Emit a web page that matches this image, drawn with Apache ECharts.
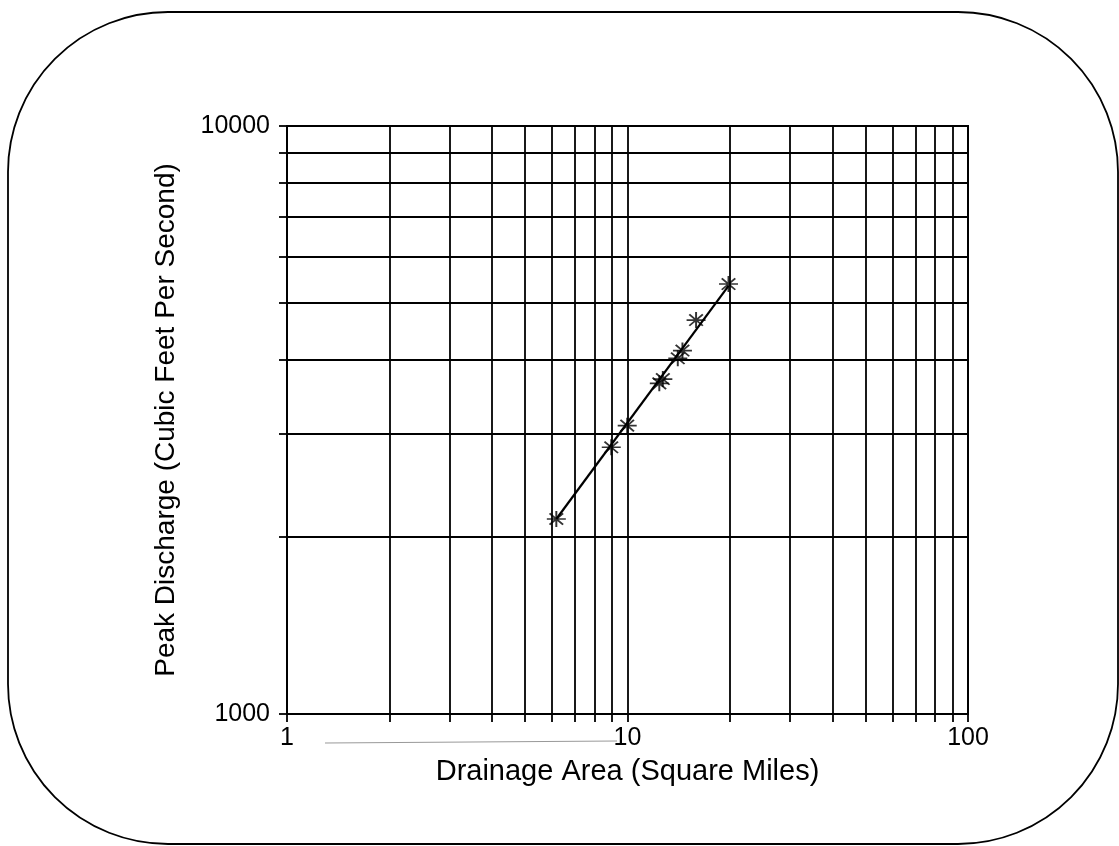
<!DOCTYPE html>
<html><head><meta charset="utf-8">
<script src="https://cdn.jsdelivr.net/npm/echarts@6/dist/echarts.min.js"></script>
<style>html,body{margin:0;padding:0;background:#fff}#c{width:1119px;height:846px}</style>
</head><body><div id="c"></div>
<script>
// Observed points (drainage area in sq mi, peak discharge in cfs)
const areaSqMi = [6.18, 8.96, 9.98, 12.4, 12.7, 14.05, 14.5, 15.9, 19.8];
const peakCfs  = [2146, 2842, 3093, 3650, 3712, 4027, 4150, 4677, 5386];
// Fitted line end points
const fitArea = [6.18, 19.8];
const fitPeak = [2146, 5345];
// Grid / tick values
const xGridValues = [1,2,3,4,5,6,7,8,9,10,20,30,40,50,60,70,80,90,100];
const yGridValues = [1000,2000,3000,4000,5000,6000,7000,8000,9000,10000];
const xTickLabels = [1, 10, 100];
const yTickLabels = [1000, 10000];

const FONT = "'Liberation Sans', Arial, Helvetica, sans-serif";
const starPath = 'path://M8,0L8,16M0,8L16,8M2.3,2.3L13.7,13.7M2.3,13.7L13.7,2.3';

const chart = echarts.init(document.getElementById('c'), null, {renderer: 'canvas'});
chart.setOption({
  animation: false,
  backgroundColor: '#fff',
  grid: {left: 287, top: 126, right: 151, bottom: 132, show: true,
         borderColor: '#000', borderWidth: 2, containLabel: false},
  xAxis: {
    type: 'log', logBase: 10, min: 1, max: 100,
    name: 'Drainage Area (Square Miles)', nameLocation: 'middle', nameGap: 43,
    nameTextStyle: {fontFamily: FONT, fontSize: 29, color: '#000'},
    axisLine: {show: true, onZero: false, lineStyle: {color: '#000', width: 2}},
    axisTick: {show: true, inside: false, length: 8, customValues: xGridValues,
               lineStyle: {color: '#000', width: 1.8}},
    axisLabel: {show: true, customValues: xTickLabels, margin: 12,
                fontFamily: FONT, fontSize: 25, color: '#000',
                formatter: v => String(v),
                showMinLabel: true, showMaxLabel: true},
    splitLine: {show: true, lineStyle: {color: '#000', width: 1.8}},
    minorTick: {show: false}, minorSplitLine: {show: false}
  },
  yAxis: {
    type: 'log', logBase: 10, min: 1000, max: 10000,
    name: 'Peak Discharge (Cubic Feet Per Second)', nameLocation: 'middle', nameGap: 107,
    nameTextStyle: {fontFamily: FONT, fontSize: 28, color: '#000'},
    axisLine: {show: true, onZero: false, lineStyle: {color: '#000', width: 2}},
    axisTick: {show: true, inside: false, length: 8, customValues: yGridValues,
               lineStyle: {color: '#000', width: 1.8}},
    axisLabel: {show: true, customValues: yTickLabels, margin: 17,
                fontFamily: FONT, fontSize: 25, color: '#000',
                formatter: v => String(v),
                showMinLabel: true, showMaxLabel: true},
    splitLine: {show: true, lineStyle: {color: '#000', width: 1.8}},
    minorTick: {show: false}, minorSplitLine: {show: false}
  },
  graphic: [
    {type: 'rect', silent: true, z: 100,
     shape: {x: 8, y: 12, width: 1110, height: 832, r: 160},
     style: {fill: 'none', stroke: '#000', lineWidth: 1.8}},
    {type: 'line', silent: true, z: 100,
     shape: {x1: 325, y1: 743, x2: 617, y2: 741},
     style: {stroke: '#999', lineWidth: 1}}
  ],
  series: [
    {type: 'line', data: fitArea.map((x, i) => [x, fitPeak[i]]),
     symbol: 'none', lineStyle: {color: '#000', width: 2.2}, z: 3, silent: true},
    {type: 'scatter', data: areaSqMi.map((x, i) => [x, peakCfs[i]]),
     symbol: starPath, symbolSize: [19, 16],
     itemStyle: {color: '#000', borderColor: '#000', borderWidth: 1.8}, z: 4, silent: true}
  ]
});
</script></body></html>
